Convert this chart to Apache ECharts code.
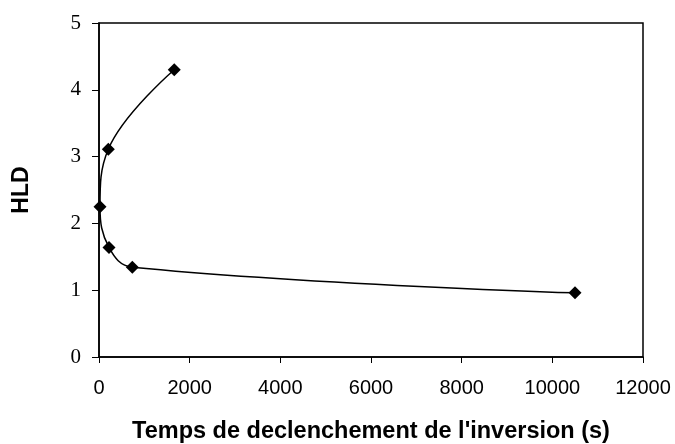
<!DOCTYPE html>
<html>
<head>
<meta charset="utf-8">
<script src="https://cdn.jsdelivr.net/npm/echarts@6/dist/echarts.min.js"></script>
<style>html,body{margin:0;padding:0;background:#fff}#c{width:675px;height:444px}</style>
</head>
<body>
<div id="c"></div>
<script>
var xValues = [1660, 205, 22, 220, 735, 10500];
var yValues = [4.30, 3.11, 2.25, 1.64, 1.345, 0.96];
var xTitle = "Temps de declenchement de l'inversion (s)";
var yTitle = "HLD";

var data = xValues.map(function (x, i) { return [x, yValues[i]]; });
var chart = echarts.init(document.getElementById('c'));
chart.setOption({
  animation: false,
  backgroundColor: '#fff',
  grid: { left: 99, top: 23, right: 32, bottom: 87, outerBoundsMode: 'none', containLabel: false,
    show: true, borderColor: '#000', borderWidth: 1.5 },
  xAxis: {
    type: 'value', min: 0, max: 12000, interval: 2000,
    name: xTitle, nameLocation: 'middle', nameGap: 63,
    nameTextStyle: { fontFamily: 'Liberation Sans', fontWeight: 'bold', fontSize: 23.5, color: '#000' },
    axisLine: { show: true, onZero: false, lineStyle: { color: '#000', width: 1.5 } },
    axisTick: { show: true, inside: false, length: 6, lineStyle: { color: '#000', width: 1 } },
    axisLabel: { fontFamily: 'Liberation Sans', fontSize: 20, color: '#000', margin: 21,
      formatter: function (v) { return String(v); } },
    splitLine: { show: false }
  },
  yAxis: {
    type: 'value', min: 0, max: 5, interval: 1,
    name: yTitle, nameLocation: 'middle', nameGap: 66, nameRotate: 90,
    nameTextStyle: { fontFamily: 'Liberation Sans', fontWeight: 'bold', fontSize: 23, color: '#000' },
    axisLine: { show: true, lineStyle: { color: '#000', width: 1.5 } },
    axisTick: { show: true, inside: false, length: 7, lineStyle: { color: '#000', width: 1 } },
    axisLabel: { fontFamily: 'Liberation Serif', fontSize: 21, color: '#000', margin: 18 },
    splitLine: { show: false }
  },
  series: [{
    type: 'line',
    data: data,
    smooth: 0.4,
    symbol: 'diamond',
    symbolSize: 13,
    itemStyle: { color: '#000' },
    lineStyle: { color: '#000', width: 1.5 }
  }]
});
</script>
</body>
</html>
